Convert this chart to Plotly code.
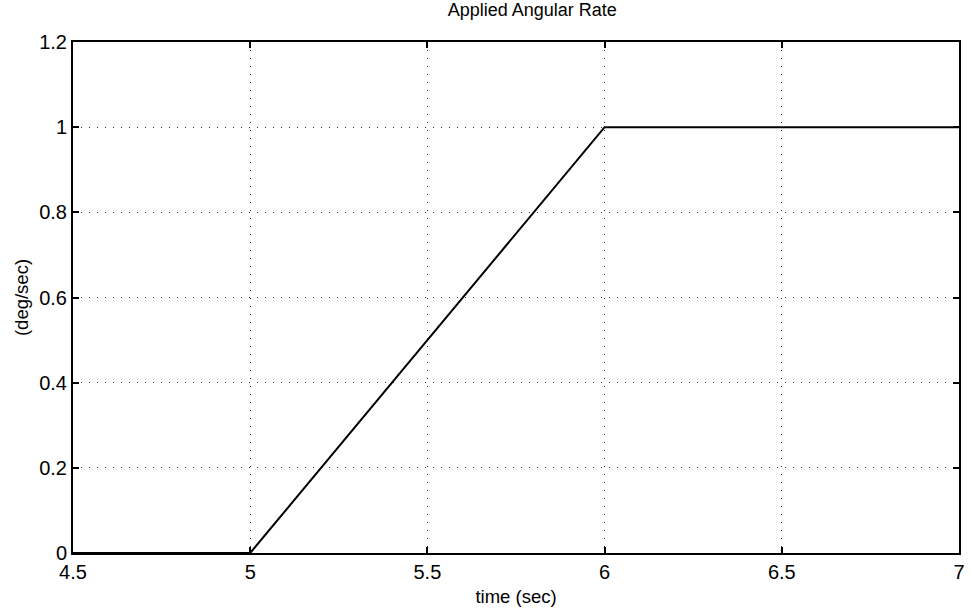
import plotly.graph_objects as go

time_s = [4.5, 5.0, 6.0, 7.0]
rate_deg_s = [0.0, 0.0, 1.0, 1.0]
x_ticks = [4.5, 5, 5.5, 6, 6.5, 7]
x_tick_labels = ["4.5", "5", "5.5", "6", "6.5", "7"]
y_ticks = [0, 0.2, 0.4, 0.6, 0.8, 1, 1.2]
y_tick_labels = ["0", "0.2", "0.4", "0.6", "0.8", "1", "1.2"]

fig = go.Figure()
fig.add_trace(go.Scatter(x=time_s, y=rate_deg_s, mode="lines",
                         line=dict(color="black", width=2), showlegend=False))

font = "Liberation Sans, Arial, sans-serif"
axis_common = dict(showline=True, linecolor="black", linewidth=2, mirror="ticks",
                   ticks="inside", ticklen=6, tickwidth=1.5, tickcolor="black",
                   showgrid=True, gridcolor="rgba(0,0,0,0.8)", griddash="1px,7px", gridwidth=1.2,
                   zeroline=False, tickfont=dict(family=font, size=20, color="black"))

fig.update_xaxes(range=[4.5, 7], tickvals=x_ticks, ticktext=x_tick_labels,
                 title=dict(text="time (sec)", font=dict(family=font, size=18.5, color="black"), standoff=8),
                 **axis_common)
fig.update_yaxes(range=[0, 1.2], tickvals=y_ticks, ticktext=y_tick_labels,
                 title=dict(text="(deg/sec)", font=dict(family=font, size=18.5, color="black"), standoff=6),
                 **axis_common)

fig.update_layout(width=973, height=615, margin=dict(l=73, r=8, t=42, b=62),
                  plot_bgcolor="white", paper_bgcolor="white",
                  title=dict(text="Applied Angular Rate", x=0.547, xanchor="center", y=0.995, yanchor="top",
                             font=dict(family=font, size=18, color="black")))

fig.write_html("out.html")
